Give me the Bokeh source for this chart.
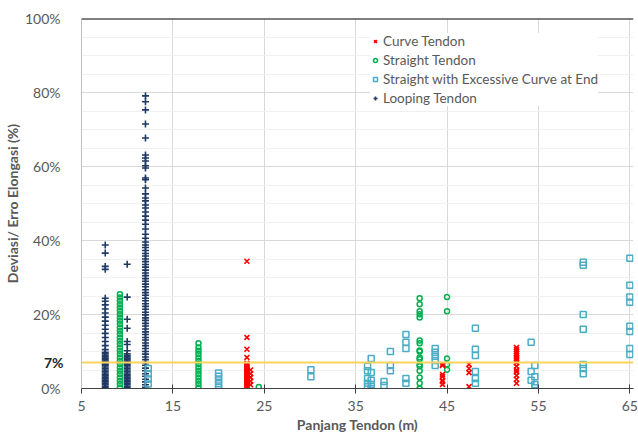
from bokeh.plotting import figure
from bokeh.models import FixedTicker, Span, Legend, LegendItem, Grid, Range1d, LinearAxis
from bokeh.embed import file_html
from bokeh.resources import INLINE

# ---------------- data ----------------
# Looping Tendon
loop_x1 = 7.6
loop_y1 = [0.2, 0.6, 1.0, 1.4, 1.8, 2.2, 2.6, 3.0, 3.4, 3.8, 4.2, 4.6, 5.0, 5.4, 5.8, 6.2,
           6.6, 7.0, 7.4, 7.8, 8.2, 8.6, 9.0, 9.4, 9.8, 10.5, 11.6, 12.7, 13.8, 14.9,
           16.0, 17.1, 18.2, 19.3, 20.4, 21.5, 22.6, 23.6, 24.4, 32.2, 33.0, 36.6, 38.8]
loop_x2 = 10.0
loop_y2 = [0.2, 0.6, 1.0, 1.4, 1.8, 2.2, 2.6, 3.0, 3.4, 3.8, 4.2, 4.6, 5.0, 5.4, 5.8, 6.2,
           6.6, 7.0, 7.4, 7.8, 8.2, 8.6, 9.0, 9.4, 10.2, 11.9, 12.7, 16.3, 18.7, 24.7, 33.6]
loop_x3 = 12.0
loop_y3 = [0.3, 1.0, 1.8, 2.5, 3.3, 4.0, 4.8, 5.5, 6.3, 7.0, 7.8, 8.5, 9.3, 10.0, 10.8,
           11.6, 12.3, 13.1, 13.8, 14.6, 15.3, 16.1, 16.9, 17.6, 18.4, 19.1, 19.9, 20.6,
           21.4, 22.2, 22.9, 23.7, 24.4, 25.2, 25.9, 26.7, 27.5, 28.2, 29.0, 29.7, 30.5,
           31.2, 32.0, 32.8, 33.5, 34.3, 35.0, 35.8, 36.5, 37.3, 38.1, 38.8, 39.6, 40.6,
           41.7, 43.1, 44.4, 45.5, 46.6, 47.7, 48.8, 49.6, 50.7, 51.5, 52.6, 54.2, 56.4,
           56.9, 59.6, 60.2, 61.5, 62.3, 63.1, 67.7, 71.5, 75.3, 77.5, 79.1]

# Straight Tendon
str_x1 = 9.2
str_y1 = [0.3, 1.2, 2.1, 3.0, 3.9, 4.8, 5.7, 6.6, 7.5, 8.4, 9.3, 10.2, 11.1, 12.0, 12.9,
          13.8, 14.7, 15.6, 16.5, 17.4, 18.3, 19.2, 20.1, 21.0, 21.9, 22.8, 23.7, 24.6, 25.5]
str_x2 = 17.8
str_y2 = [0.3, 1.2, 2.1, 3.0, 3.9, 4.8, 5.7, 6.6, 7.5, 8.4, 9.3, 10.2, 11.1, 12.2]
str_x3 = 24.4
str_y3 = [0.4]
str_x4 = 42.0
str_y4 = [0.0, 1.4, 3.0, 4.8, 6.0, 6.5, 7.9, 8.4, 10.0, 10.3, 12.2, 13.0, 19.2, 20.1,
          20.9, 22.8, 24.4]
str_x5 = 45.0
str_y5 = [5.1, 6.5, 8.1, 20.9, 24.7]

# Curve Tendon
cur_x1 = 23.1
cur_y1 = [0.2, 0.5, 0.8, 1.1, 1.4, 1.7, 2.0, 2.3, 2.6, 2.9, 3.2, 3.5, 3.8, 4.1, 4.4,
          4.7, 5.0, 5.3, 5.6, 5.9, 6.2, 6.5, 6.8, 8.4, 10.6, 13.8, 34.4]
cur_x2 = 23.5
cur_y2 = [1.0, 2.0, 3.0, 4.0, 5.0]
cur_x3 = 44.5
cur_y3 = [1.1, 1.9, 2.2, 3.2, 3.8, 6.2, 6.5]
cur_x4 = 47.4
cur_y4 = [0.5, 4.3, 5.4, 6.5]
cur_x5 = 52.6
cur_y5 = [1.4, 2.5, 3.5, 4.5, 5.0, 6.0, 7.0, 7.5, 8.0, 8.5, 9.0, 9.5, 10.0, 10.5, 11.1]

# Straight with Excessive Curve at End
exc_x = [12.3, 12.3, 12.3, 12.3,
         20.0, 20.0, 20.0, 20.0, 20.0,
         30.1, 30.1,
         36.3, 36.3, 36.3, 36.3, 36.3,
         36.7, 36.7, 36.7, 36.7, 36.7,
         38.1, 38.1,
         38.8, 38.8, 38.8,
         40.5, 40.5, 40.5, 40.5, 40.5,
         43.7, 43.7, 43.7, 43.7, 43.7,
         48.1, 48.1, 48.1, 48.1, 48.1, 48.1,
         54.2, 54.2, 54.2,
         54.6, 54.6, 54.6, 54.6,
         59.9, 59.9, 59.9, 59.9, 59.9, 59.9, 59.9,
         65.0, 65.0, 65.0, 65.0, 65.0, 65.0, 65.0, 65.0]
exc_y = [1.2, 2.6, 4.0, 5.4,
         0.3, 1.3, 2.3, 3.3, 4.2,
         3.2, 5.1,
         0.5, 1.4, 2.7, 4.8, 6.0,
         0.0, 1.1, 2.2, 4.3, 8.1,
         0.8, 1.9,
         4.8, 6.2, 10.0,
         1.4, 2.7, 10.8, 12.5, 14.6,
         6.2, 7.6, 8.7, 9.8, 10.8,
         1.4, 2.7, 4.6, 8.9, 10.6, 16.3,
         2.2, 4.6, 12.5,
         0.2, 1.1, 3.2, 6.2,
         4.0, 5.4, 6.5, 16.0, 20.0, 33.3, 34.1,
         9.2, 10.8, 15.4, 16.8, 23.3, 24.7, 27.9, 35.2]

threshold = 7
x_ticks = [5, 15, 25, 35, 45, 55, 65]
y_ticks = [0, 20, 40, 60, 80, 100]
y_minor = [5, 10, 15, 25, 30, 35, 45, 50, 55, 65, 70, 75, 85, 90, 95]

legend_names = ["Curve Tendon", "Straight Tendon",
                "Straight with Excessive Curve at End", "Looping Tendon"]

# ---------------- figure ----------------
FONT = "Lato"
GRAY = "#595959"

p = figure(width=638, height=435, output_backend="svg", toolbar_location=None,
           x_range=Range1d(5, 65.4), y_range=Range1d(0, 100),
           min_border_left=81, min_border_right=5, min_border_top=18, min_border_bottom=47)
p.outline_line_color = None
p.background_fill_color = "white"

# grids
p.xgrid.ticker = FixedTicker(ticks=[15, 25, 35, 45, 55, 65])
p.xgrid.grid_line_color = "#d9d9d9"
p.ygrid.ticker = FixedTicker(ticks=[20, 40, 60, 80])
p.ygrid.grid_line_color = "#d9d9d9"
minor_grid = Grid(dimension=1, ticker=FixedTicker(ticks=y_minor),
                  grid_line_color="#f0f0f0", grid_line_width=1)
p.add_layout(minor_grid)

# x axis
p.xaxis.ticker = FixedTicker(ticks=x_ticks)
p.xaxis.axis_line_color = "#404040"
p.xaxis.major_tick_line_color = "#404040"
p.xaxis.major_tick_in = 4
p.xaxis.major_tick_out = 5
p.xaxis.minor_tick_line_color = None
p.xaxis.major_label_standoff = 7
p.xaxis.major_label_text_font = FONT
p.xaxis.major_label_text_font_size = "14px"
p.xaxis.major_label_text_color = GRAY
p.xaxis.axis_label = "Panjang Tendon (m)"
p.xaxis.axis_label_text_font = FONT
p.xaxis.axis_label_text_font_size = "14px"
p.xaxis.axis_label_text_font_style = "bold"
p.xaxis.axis_label_text_color = GRAY
p.xaxis.axis_label_standoff = 2

# y axes: inner axis carries the bold "7%" label, outer axis carries the other labels
yax = p.yaxis[0]
yax.ticker = FixedTicker(ticks=y_ticks)
yax.major_label_overrides = {t: f"{t}%" for t in y_ticks}
yax.axis_line_color = None
yax.major_tick_line_color = None
yax.minor_tick_line_color = None
yax.major_tick_in = 0
yax.major_tick_out = 0
yax.major_label_standoff = -20
yax.major_label_text_font = FONT
yax.major_label_text_font_size = "14px"
yax.major_label_text_color = GRAY
yax.axis_label = "Deviasi/ Erro Elongasi (%)"
yax.axis_label_text_font = FONT
yax.axis_label_text_font_size = "14px"
yax.axis_label_text_font_style = "bold"
yax.axis_label_text_color = GRAY
yax.axis_label_standoff = 1

ax7 = LinearAxis(ticker=FixedTicker(ticks=[threshold]),
                 major_label_overrides={threshold: f"{threshold}%"},
                 major_label_standoff=18, major_tick_in=0, major_tick_out=0,
                 major_tick_line_color=None, minor_tick_line_color=None,
                 axis_line_color="#bfbfbf",
                 major_label_text_font=FONT, major_label_text_font_size="14px",
                 major_label_text_font_style="bold", major_label_text_color="#262626")
p.left = [ax7, yax]

# reference lines
p.add_layout(Span(location=threshold, dimension="width", line_color="#fcd45a", line_width=2))
p.add_layout(Span(location=100, dimension="width", line_color="#000000", line_width=2))

# ---------------- series ----------------
cx = [cur_x1] * len(cur_y1) + [cur_x2] * len(cur_y2) + [cur_x3] * len(cur_y3) + \
     [cur_x4] * len(cur_y4) + [cur_x5] * len(cur_y5)
cy = cur_y1 + cur_y2 + cur_y3 + cur_y4 + cur_y5
sx = [str_x1] * len(str_y1) + [str_x2] * len(str_y2) + [str_x3] * len(str_y3) + \
     [str_x4] * len(str_y4) + [str_x5] * len(str_y5)
sy = str_y1 + str_y2 + str_y3 + str_y4 + str_y5
lx = [loop_x1] * len(loop_y1) + [loop_x2] * len(loop_y2) + [loop_x3] * len(loop_y3)
ly = loop_y1 + loop_y2 + loop_y3

r_loop = p.scatter(lx, ly, marker="cross", size=7, line_color="#1f3864", line_width=1.6)
r_exc = p.scatter(exc_x, exc_y, marker="square", size=6, line_color="#4bacc6",
                  fill_color=None, line_width=1.5)
r_str = p.scatter(sx, sy, marker="circle", size=5, line_color="#00b050",
                  fill_color=None, line_width=1.5)
r_cur = p.scatter(cx, cy, marker="x", size=7, line_color="#ff0000", line_width=1.6)

legend = Legend(items=[LegendItem(label=legend_names[0], renderers=[r_cur]),
                       LegendItem(label=legend_names[1], renderers=[r_str]),
                       LegendItem(label=legend_names[2], renderers=[r_exc]),
                       LegendItem(label=legend_names[3], renderers=[r_loop])],
                location=(289, 282), orientation="vertical",
                glyph_width=10, glyph_height=16, label_height=16, label_standoff=3,
                spacing=3, padding=6, margin=0,
                label_text_font=FONT, label_text_font_size="13.5px",
                label_text_color=GRAY, border_line_color=None,
                background_fill_color="white", background_fill_alpha=1)
p.add_layout(legend)

open("out.html", "w").write(file_html(p, INLINE))
